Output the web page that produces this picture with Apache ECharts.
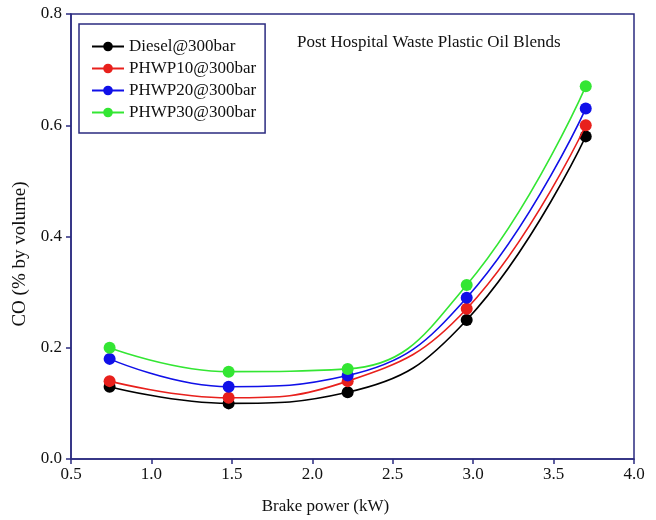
<!DOCTYPE html>
<html>
<head>
<meta charset="utf-8">
<script src="https://cdn.jsdelivr.net/npm/echarts@6/dist/echarts.min.js"></script>
<style>html,body{margin:0;padding:0;background:#fff}#c{width:656px;height:520px}</style>
</head>
<body>
<div id="c"></div>
<script>
const brakePower = [0.74, 1.48, 2.22, 2.96, 3.70];
const diesel = [0.13, 0.10, 0.12, 0.25, 0.58];
const phwp10 = [0.14, 0.11, 0.14, 0.27, 0.60];
const phwp20 = [0.18, 0.13, 0.15, 0.29, 0.63];
const phwp30 = [0.20, 0.157, 0.162, 0.313, 0.67];
const seriesNames = ['Diesel@300bar', 'PHWP10@300bar', 'PHWP20@300bar', 'PHWP30@300bar'];
const seriesColors = ['#000000', '#e8201c', '#1010e8', '#33e633'];
const seriesValues = [diesel, phwp10, phwp20, phwp30];

const axisColor = '#2b2b80';
const font = 'Liberation Serif, Times New Roman, serif';

const chart = echarts.init(document.getElementById('c'));
chart.setOption({
  animation: false,
  backgroundColor: '#fff',
  textStyle: { fontFamily: font },
  grid: { left: 71, right: 22, top: 14, bottom: 61, show: true, borderColor: axisColor, borderWidth: 1.5, containLabel: false },
  title: {
    text: 'Post Hospital Waste Plastic Oil Blends',
    left: 292, top: 29,
    textStyle: { fontFamily: font, fontSize: 17, fontWeight: 'normal', color: '#111' }
  },
  legend: {
    orient: 'vertical', left: 79, top: 24,
    padding: [14, 9, 12, 12],
    itemGap: 5, itemWidth: 32, itemHeight: 12,
    borderColor: axisColor, borderWidth: 1.5,
    textStyle: { fontFamily: font, fontSize: 17, color: '#111' },
    data: seriesNames
  },
  xAxis: {
    type: 'value', min: 0.5, max: 4.0, interval: 0.5,
    name: 'Brake power (kW)', nameLocation: 'middle', nameGap: 39,
    nameTextStyle: { fontFamily: font, fontSize: 17, color: '#111', padding: [0, 54, 0, 0] },
    axisLine: { show: true, lineStyle: { color: axisColor, width: 1.5 } },
    axisTick: { show: true, length: 5, lineStyle: { color: axisColor, width: 1.5 } },
    axisLabel: { fontFamily: font, fontSize: 17, color: '#111', margin: 7, formatter: v => v.toFixed(1) },
    splitLine: { show: false }
  },
  yAxis: {
    type: 'value', min: 0, max: 0.8, interval: 0.2,
    name: 'CO (% by volume)', nameLocation: 'middle', nameGap: 39,
    nameTextStyle: { fontFamily: font, fontSize: 19, color: '#111', padding: [0, 35, 0, 0] },
    axisLine: { show: true, lineStyle: { color: axisColor, width: 1.5 } },
    axisTick: { show: true, length: 5, lineStyle: { color: axisColor, width: 1.5 } },
    axisLabel: { fontFamily: font, fontSize: 17, color: '#111', margin: 9, formatter: v => v.toFixed(1) },
    splitLine: { show: false }
  },
  series: seriesValues.map((vals, i) => ({
    name: seriesNames[i],
    type: 'line',
    smooth: 0.45,
    symbol: 'circle',
    symbolSize: 12,
    color: seriesColors[i],
    lineStyle: { width: 1.6, color: seriesColors[i] },
    itemStyle: { color: seriesColors[i] },
    z: 2 + i,
    data: brakePower.map((x, j) => [x, vals[j]])
  }))
});
</script>
</body>
</html>
